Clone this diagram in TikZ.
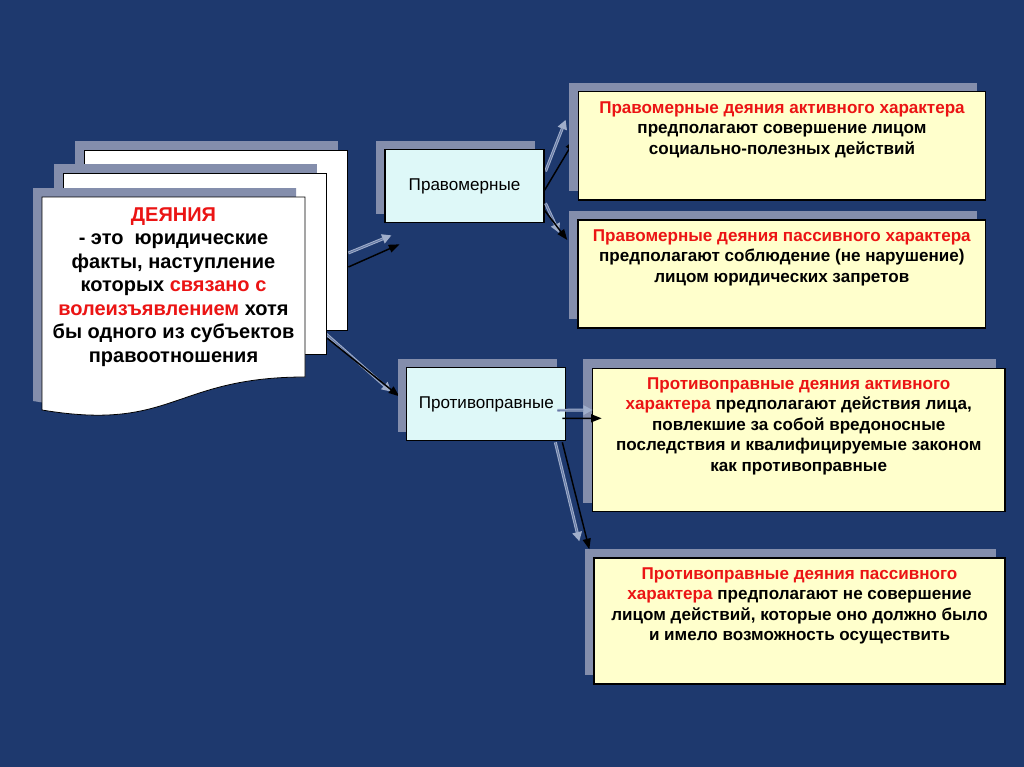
\documentclass[tikz,border=0pt]{standalone}
\usepackage{fontspec}
\setmainfont{Liberation Sans}
\usetikzlibrary{shadows,arrows.meta,calc}
\definecolor{bgc}{RGB}{30,57,110}
\definecolor{shc}{RGB}{132,142,172}
\definecolor{yel}{RGB}{255,255,204}
\definecolor{cya}{RGB}{222,248,248}
\definecolor{txtred}{RGB}{235,20,20}
\definecolor{lite}{RGB}{160,174,202}
\definecolor{litein}{RGB}{100,120,165}
\newcommand{\rd}[1]{\textcolor{txtred}{#1}}
\pgfdeclarelayer{bgl}
\pgfdeclarelayer{behind}
\pgfsetlayers{bgl,behind,main}
\begin{document}
\begin{tikzpicture}[x=0.75pt,y=-0.75pt,
 shd/.style={general shadow={fill=shc, shadow xshift=-6.75pt, shadow yshift=6.75pt}},
 page/.style={shd, draw=black, line width=0.6pt, fill=white, inner sep=0pt},
 smallbox/.style={shd, draw=black, line width=0.8pt, fill=cya, minimum width=119.25pt, minimum height=54.75pt, inner sep=0pt, font=\fontsize{12.8}{15}\selectfont},
 bigbox/.style={shd, draw=black, line width=1pt, fill=yel, inner sep=0pt},
 btext/.style={align=center, inner sep=0pt, font=\bfseries\fontsize{12.8}{15.4}\selectfont},
 dtext/.style={align=center, inner sep=0pt, font=\bfseries\fontsize{15}{17.6}\selectfont},
 blk/.style={draw=black, line width=1.1pt, -{Triangle[length=8pt,width=6pt]}},
 lit/.style={draw=lite, line width=2.2pt, -{Triangle[length=7pt,width=7pt]}, postaction={draw=litein, line width=0.7pt, -, shorten >=7pt}}
]
\begin{pgfonlayer}{bgl}
\fill[bgc] (0,0) rectangle (1024,767);
\end{pgfonlayer}
\useasboundingbox (0,0) rectangle (1024,767);

% document stack
\node[page, minimum width=197.25pt, minimum height=135pt] (pgA) at (215.5,240) {};
\node[page, minimum width=197.25pt, minimum height=135.75pt] (pgB) at (194.5,263.5) {};
\path[page] (42,197) -- (305,197) -- (305,377) .. controls (173.5,377) and (173.5,432) .. (42,410) -- cycle;
\node[dtext] (doctext) at (173.5,287) {\rd{ДЕЯНИЯ}\\- это\ \ юридические\\факты, наступление\\которых \rd{связано с}\\\rd{волеизъявлением} хотя\\бы одного из субъектов\\правоотношения};

% middle boxes
\node[smallbox] (prav) at (464.5,186.3) {Правомерные};
\node[smallbox] (contra) at (486.3,404.3) {Противоправные};

% right boxes
\node[bigbox, minimum width=305.5pt, minimum height=81.2pt] (b1) at (782,145.8) {};
\node[bigbox, minimum width=305.8pt, minimum height=81pt] (b2) at (781.8,274) {};
\node[bigbox, minimum width=309.5pt, minimum height=107.5pt] (b3) at (798.7,440) {};
\node[bigbox, minimum width=308.25pt, minimum height=94.5pt] (b4) at (799.5,621) {};

\node[btext] (t1) at ($(b1.center)+(0,-16)$) {\rd{Правомерные деяния активного характера}\\предполагают совершение лицом\\социально-полезных действий};
\node[btext] (t2) at ($(b2.center)+(0,-16.4)$) {\rd{Правомерные деяния пассивного характера}\\предполагают соблюдение (не нарушение)\\лицом юридических запретов};
\node[btext] (t3) at ($(b3.center)+(0,-14)$) {\rd{Противоправные деяния активного}\\\rd{характера} предполагают действия лица,\\повлекшие за собой вредоносные\\последствия и квалифицируемые законом\\как противоправные};
\node[btext] (t4) at ($(b4.center)+(0,-15)$) {\rd{Противоправные деяния пассивного}\\\rd{характера} предполагают не совершение\\лицом действий, которые оно должно было\\и имело возможность осуществить};

% arrows behind boxes
\begin{pgfonlayer}{behind}
\draw[lit] ($(prav.east)+(1,-15)$) -- ($(b1.west)+(-12,-26)$);
\draw[blk] ($(prav.east)+(0,4)$) -- ($(b1.west)+(-3,-6)$);
\draw[lit] ($(pgB.south east)+(-1,-21)$) -- ($(contra.west)+(-15,-12.6)$);
\draw[blk] ($(pgB.south east)+(1,-16)$) -- ($(contra.west)+(-7,-8)$);
\end{pgfonlayer}

% arrows on top
\draw[lit] ($(pgA.east)+(1,13)$) -- ($(prav.south west)+(7,12)$);
\draw[blk] ($(pgA.east)+(1,27)$) -- ($(prav.south west)+(15,21)$);
\draw[lit] ($(prav.east)+(1,17)$) -- ($(b2.west)+(-18,-41)$);
\draw[blk] ($(prav.east)+(0,24)$) -- ($(b2.west)+(-10,-34)$);
\draw[lit] ($(contra.east)+(-9,6)$) -- ($(b3.west)+(1,-30)$);
\draw[blk] ($(contra.east)+(-4,14)$) -- ($(b3.west)+(10,-21.7)$);
\draw[lit] ($(contra.south east)+(-11,1)$) -- ($(b4.north west)+(-14,-16)$);
\draw[blk] ($(contra.south east)+(-4,1)$) -- ($(b4.north west)+(-4,-8)$);
\end{tikzpicture}
\end{document}
